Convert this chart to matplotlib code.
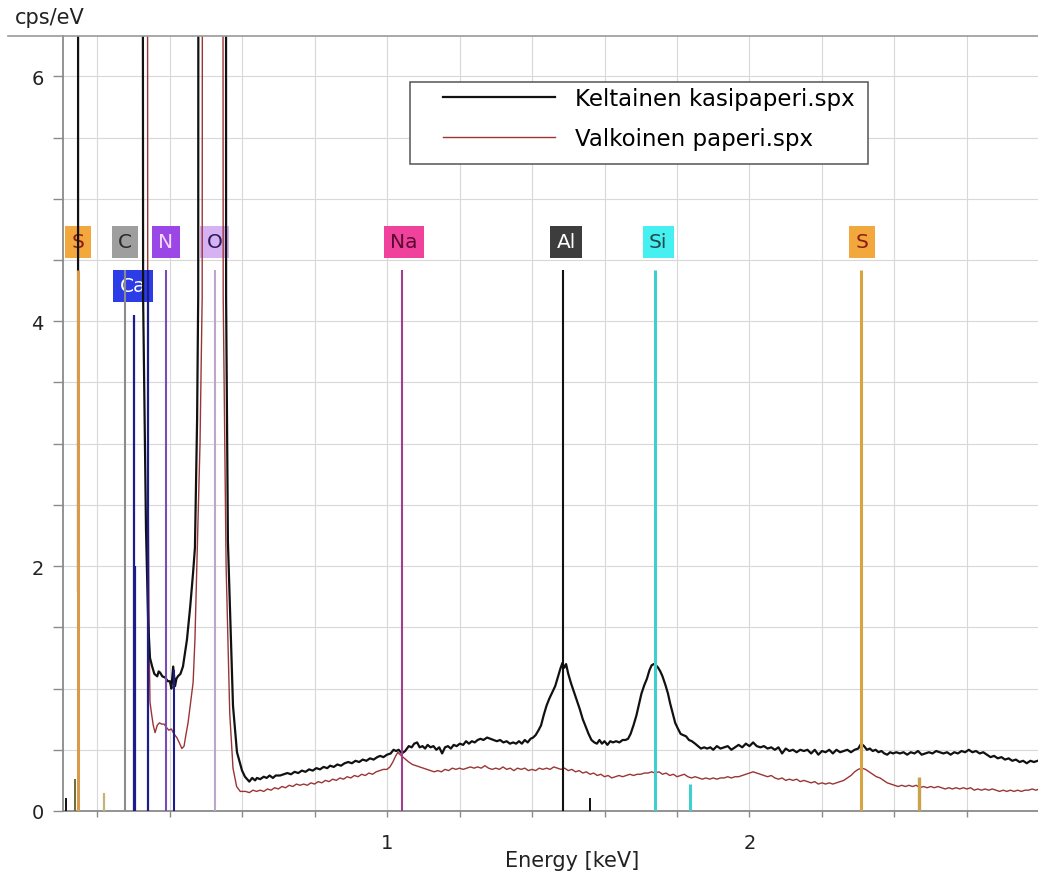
import matplotlib
matplotlib.use("Agg")
import matplotlib.pyplot as plt
from matplotlib.lines import Line2D
from matplotlib.patches import Rectangle

plt.rcParams['font.family'] = ['DejaVu Sans']

# Spectrum 1: Keltainen kasipaperi (energy keV, cps/eV); 40 = off scale
black_e = [0.1475, 0.1485, 0.318, 0.327, 0.335, 0.341, 0.346, 0.352, 0.358, 0.366, 0.370, 0.374,
           0.380, 0.388, 0.395, 0.401, 0.405, 0.410, 0.415, 0.419, 0.423, 0.430, 0.437, 0.443,
           0.448, 0.457, 0.465, 0.470, 0.476, 0.479, 0.485, 0.553, 0.556, 0.561, 0.575, 0.586,
           0.600, 0.608, 0.614, 0.620, 0.628, 0.636, 0.641, 0.650, 0.660, 0.668, 0.676, 0.685,
           0.693, 0.705, 0.715, 0.725, 0.735, 0.745, 0.755, 0.765, 0.775, 0.785, 0.795, 0.805,
           0.815, 0.825, 0.835, 0.843, 0.853, 0.863, 0.873, 0.883, 0.893, 0.903, 0.913, 0.923,
           0.933, 0.943, 0.953, 0.963, 0.973, 0.981, 0.990, 1.000, 1.010, 1.018, 1.025, 1.032,
           1.041, 1.050, 1.060, 1.068, 1.075, 1.083, 1.090, 1.098, 1.105, 1.112, 1.120, 1.128,
           1.136, 1.144, 1.152, 1.160, 1.168, 1.176, 1.184, 1.192, 1.201, 1.210, 1.218, 1.226,
           1.234, 1.242, 1.250, 1.258, 1.266, 1.276, 1.285, 1.294, 1.303, 1.312, 1.321, 1.330,
           1.339, 1.348, 1.356, 1.364, 1.372, 1.380, 1.388, 1.396, 1.403, 1.410, 1.418, 1.425,
           1.432, 1.440, 1.448, 1.456, 1.464, 1.472, 1.478, 1.484, 1.489, 1.494, 1.500, 1.508,
           1.516, 1.524, 1.532, 1.540, 1.548, 1.556, 1.564, 1.572, 1.579, 1.586, 1.593, 1.600,
           1.608, 1.616, 1.623, 1.632, 1.641, 1.650, 1.658, 1.665, 1.672, 1.680, 1.688, 1.695,
           1.702, 1.710, 1.717, 1.724, 1.730, 1.736, 1.742, 1.748, 1.754, 1.760, 1.768, 1.775,
           1.781, 1.788, 1.795, 1.803, 1.810, 1.817, 1.825, 1.833, 1.841, 1.850, 1.858, 1.866,
           1.875, 1.883, 1.892, 1.900, 1.910, 1.920, 1.930, 1.940, 1.950, 1.960, 1.970, 1.980,
           1.990, 2.000, 2.010, 2.020, 2.030, 2.040, 2.050, 2.060, 2.070, 2.080, 2.090, 2.100,
           2.110, 2.120, 2.130, 2.140, 2.150, 2.160, 2.170, 2.180, 2.190, 2.200, 2.210, 2.220,
           2.230, 2.240, 2.250, 2.260, 2.270, 2.280, 2.290, 2.300, 2.308, 2.316, 2.324, 2.332,
           2.340, 2.348, 2.356, 2.364, 2.372, 2.380, 2.388, 2.396, 2.405, 2.415, 2.425, 2.435,
           2.445, 2.455, 2.465, 2.475, 2.485, 2.495, 2.505, 2.515, 2.525, 2.535, 2.545, 2.555,
           2.565, 2.575, 2.585, 2.595, 2.605, 2.615, 2.625, 2.635, 2.645, 2.655, 2.665, 2.675,
           2.685, 2.695, 2.705, 2.715, 2.725, 2.735, 2.745, 2.755, 2.765, 2.775, 2.785, 2.795]
black_y = [1.80, 40, 40, 4.20, 2.30, 1.54, 1.25, 1.18, 1.12, 1.10, 1.14, 1.13,
           1.10, 1.09, 1.06, 1.06, 1.00, 1.18, 1.02, 1.08, 1.10, 1.12, 1.18, 1.30,
           1.40, 1.67, 1.95, 2.15, 3.20, 4.20, 40, 40, 4.20, 2.20, 0.86, 0.48,
           0.33, 0.28, 0.26, 0.24, 0.27, 0.25, 0.27, 0.26, 0.28, 0.27, 0.29, 0.27,
           0.29, 0.29, 0.30, 0.31, 0.30, 0.32, 0.31, 0.33, 0.32, 0.34, 0.33, 0.35,
           0.34, 0.36, 0.35, 0.37, 0.36, 0.38, 0.37, 0.39, 0.40, 0.39, 0.41, 0.40,
           0.42, 0.41, 0.43, 0.42, 0.44, 0.45, 0.44, 0.46, 0.47, 0.50, 0.49, 0.50,
           0.47, 0.49, 0.53, 0.52, 0.55, 0.56, 0.52, 0.53, 0.51, 0.54, 0.52, 0.53,
           0.50, 0.52, 0.47, 0.52, 0.53, 0.51, 0.54, 0.53, 0.55, 0.54, 0.57, 0.55,
           0.57, 0.56, 0.58, 0.59, 0.58, 0.60, 0.59, 0.58, 0.57, 0.58, 0.56, 0.57,
           0.55, 0.56, 0.55, 0.57, 0.55, 0.58, 0.56, 0.59, 0.60, 0.62, 0.66, 0.70,
           0.78, 0.86, 0.92, 0.97, 1.02, 1.10, 1.16, 1.21, 1.17, 1.20, 1.12, 1.04,
           0.97, 0.90, 0.83, 0.75, 0.69, 0.63, 0.58, 0.56, 0.55, 0.58, 0.55, 0.57,
           0.54, 0.57, 0.56, 0.57, 0.56, 0.58, 0.58, 0.59, 0.63, 0.70, 0.78, 0.87,
           0.96, 1.03, 1.08, 1.15, 1.19, 1.20, 1.19, 1.17, 1.14, 1.10, 1.03, 0.96,
           0.88, 0.80, 0.72, 0.67, 0.63, 0.62, 0.61, 0.58, 0.57, 0.55, 0.53, 0.51,
           0.52, 0.51, 0.52, 0.50, 0.53, 0.51, 0.52, 0.53, 0.50, 0.52, 0.54, 0.52,
           0.55, 0.53, 0.56, 0.53, 0.52, 0.53, 0.51, 0.52, 0.50, 0.52, 0.47, 0.51,
           0.49, 0.50, 0.48, 0.50, 0.49, 0.50, 0.47, 0.50, 0.46, 0.49, 0.48, 0.50,
           0.47, 0.50, 0.48, 0.49, 0.50, 0.48, 0.50, 0.51, 0.55, 0.53, 0.50, 0.51,
           0.49, 0.50, 0.48, 0.49, 0.47, 0.46, 0.48, 0.47, 0.48, 0.47, 0.48, 0.46,
           0.48, 0.47, 0.49, 0.46, 0.47, 0.48, 0.47, 0.49, 0.48, 0.47, 0.48, 0.46,
           0.48, 0.47, 0.49, 0.48, 0.50, 0.48, 0.49, 0.47, 0.48, 0.46, 0.44, 0.45,
           0.43, 0.44, 0.42, 0.43, 0.41, 0.42, 0.40, 0.41, 0.39, 0.41, 0.40, 0.41]

# Spectrum 2: Valkoinen paperi
red_e = [0.1475, 0.1485, 0.333, 0.340, 0.344, 0.346, 0.350, 0.355, 0.360, 0.366, 0.372, 0.378,
         0.385, 0.392, 0.398, 0.405, 0.412, 0.420, 0.428, 0.434, 0.440, 0.445, 0.451, 0.457,
         0.465, 0.470, 0.476, 0.484, 0.490, 0.497, 0.540, 0.548, 0.556, 0.566, 0.575, 0.585,
         0.595, 0.610, 0.620, 0.630, 0.640, 0.650, 0.660, 0.670, 0.680, 0.690, 0.700, 0.710,
         0.720, 0.730, 0.740, 0.750, 0.760, 0.770, 0.780, 0.790, 0.800, 0.810, 0.820, 0.830,
         0.840, 0.850, 0.860, 0.870, 0.880, 0.890, 0.900, 0.910, 0.920, 0.930, 0.940, 0.950,
         0.960, 0.970, 0.980, 0.990, 1.000, 1.008, 1.016, 1.024, 1.030, 1.036, 1.044, 1.052,
         1.060, 1.070, 1.080, 1.090, 1.100, 1.110, 1.120, 1.130, 1.140, 1.150, 1.160, 1.170,
         1.180, 1.190, 1.200, 1.210, 1.220, 1.230, 1.240, 1.250, 1.260, 1.270, 1.280, 1.290,
         1.300, 1.310, 1.320, 1.330, 1.340, 1.350, 1.360, 1.370, 1.380, 1.390, 1.400, 1.410,
         1.420, 1.430, 1.440, 1.450, 1.460, 1.470, 1.480, 1.490, 1.500, 1.510, 1.520, 1.530,
         1.540, 1.550, 1.560, 1.570, 1.580, 1.590, 1.600, 1.610, 1.620, 1.630, 1.640, 1.650,
         1.660, 1.670, 1.680, 1.690, 1.700, 1.710, 1.720, 1.730, 1.740, 1.750, 1.760, 1.770,
         1.780, 1.790, 1.800, 1.810, 1.820, 1.830, 1.840, 1.850, 1.860, 1.870, 1.880, 1.890,
         1.900, 1.910, 1.920, 1.930, 1.940, 1.950, 1.960, 1.970, 1.980, 1.990, 2.000, 2.010,
         2.020, 2.030, 2.040, 2.050, 2.060, 2.070, 2.080, 2.090, 2.100, 2.110, 2.120, 2.130,
         2.140, 2.150, 2.160, 2.170, 2.180, 2.190, 2.200, 2.210, 2.220, 2.230, 2.240, 2.250,
         2.260, 2.270, 2.280, 2.290, 2.300, 2.310, 2.320, 2.330, 2.340, 2.350, 2.360, 2.370,
         2.380, 2.390, 2.400, 2.410, 2.420, 2.430, 2.440, 2.450, 2.460, 2.470, 2.480, 2.490,
         2.500, 2.510, 2.520, 2.530, 2.540, 2.550, 2.560, 2.570, 2.580, 2.590, 2.600, 2.610,
         2.620, 2.630, 2.640, 2.650, 2.660, 2.670, 2.680, 2.690, 2.700, 2.710, 2.720, 2.730,
         2.740, 2.750, 2.760, 2.770, 2.780, 2.790, 2.800]
red_y = [2.20, 40, 40, 3.00, 1.30, 0.89, 0.80, 0.70, 0.64, 0.70, 0.72, 0.71,
         0.71, 0.68, 0.66, 0.67, 0.63, 0.60, 0.55, 0.51, 0.53, 0.62, 0.72, 0.86,
         1.05, 1.40, 2.10, 3.00, 4.20, 40, 40, 4.20, 2.00, 0.80, 0.35, 0.20,
         0.16, 0.16, 0.15, 0.17, 0.16, 0.17, 0.16, 0.18, 0.17, 0.19, 0.18, 0.20,
         0.19, 0.21, 0.20, 0.22, 0.21, 0.22, 0.21, 0.23, 0.22, 0.24, 0.23, 0.25,
         0.24, 0.26, 0.25, 0.27, 0.26, 0.28, 0.27, 0.29, 0.28, 0.30, 0.29, 0.31,
         0.30, 0.32, 0.33, 0.34, 0.34, 0.36, 0.40, 0.45, 0.48, 0.46, 0.44, 0.42,
         0.40, 0.38, 0.37, 0.36, 0.35, 0.34, 0.33, 0.32, 0.33, 0.32, 0.34, 0.33,
         0.35, 0.34, 0.35, 0.34, 0.35, 0.36, 0.35, 0.36, 0.35, 0.37, 0.35, 0.34,
         0.35, 0.34, 0.36, 0.34, 0.35, 0.33, 0.35, 0.34, 0.35, 0.33, 0.34, 0.33,
         0.35, 0.34, 0.35, 0.34, 0.36, 0.35, 0.34, 0.35, 0.33, 0.34, 0.32, 0.33,
         0.31, 0.32, 0.30, 0.31, 0.29, 0.30, 0.28, 0.29, 0.27, 0.28, 0.29, 0.28,
         0.29, 0.30, 0.29, 0.30, 0.30, 0.31, 0.31, 0.32, 0.31, 0.32, 0.30, 0.31,
         0.29, 0.30, 0.28, 0.29, 0.30, 0.28, 0.27, 0.28, 0.27, 0.26, 0.27, 0.26,
         0.27, 0.26, 0.27, 0.27, 0.28, 0.27, 0.28, 0.28, 0.29, 0.30, 0.31, 0.32,
         0.31, 0.30, 0.29, 0.28, 0.29, 0.27, 0.26, 0.27, 0.25, 0.26, 0.25, 0.26,
         0.24, 0.25, 0.24, 0.23, 0.24, 0.22, 0.23, 0.22, 0.23, 0.22, 0.23, 0.24,
         0.25, 0.27, 0.29, 0.32, 0.34, 0.35, 0.34, 0.32, 0.30, 0.28, 0.27, 0.25,
         0.23, 0.22, 0.21, 0.20, 0.21, 0.20, 0.21, 0.20, 0.21, 0.19, 0.20, 0.19,
         0.20, 0.19, 0.20, 0.19, 0.18, 0.19, 0.18, 0.19, 0.18, 0.19, 0.18, 0.19,
         0.17, 0.18, 0.17, 0.18, 0.17, 0.18, 0.17, 0.16, 0.17, 0.16, 0.17, 0.16,
         0.17, 0.16, 0.17, 0.17, 0.18, 0.17, 0.18]

# Element line markers (energy keV, marker height, colour, width in pt)
line_energy = [0.148, 0.277, 0.302, 0.306, 0.341, 0.390, 0.412, 0.525,
               1.041, 1.486, 1.740, 2.307, 0.114, 0.139, 0.219, 1.560, 1.836, 2.468]
line_height = [4.42, 4.42, 4.05, 2.00, 4.42, 4.42, 1.15, 4.42,
               4.42, 4.42, 4.42, 4.42, 0.11, 0.26, 0.15, 0.11, 0.22, 0.28]
line_color = ['#D99A4A', '#8C8C8C', '#1C1C8E', '#1C1C8E', '#1C1C8E', '#7B4BB8', '#1C1C8E', '#BCA6CC',
              '#A0408C', '#111111', '#3FCFCF', '#D6A443', '#111111', '#6B6A3A', '#C9B27A', '#111111',
              '#3FCFCF', '#C9A24A']
line_width = [2.2, 1.5, 1.6, 1.6, 1.6, 1.5, 1.5, 1.5,
              1.5, 1.5, 2.2, 2.2, 1.4, 1.4, 1.6, 1.4, 2.2, 2.4]

# Element labels
label_text = ['S', 'C', 'N', 'O', 'Ca', 'Na', 'Al', 'Si', 'S']
label_energy = [0.148, 0.277, 0.390, 0.525, 0.299, 1.046, 1.494, 1.748, 2.310]
label_level = [4.65, 4.65, 4.65, 4.65, 4.29, 4.65, 4.65, 4.65, 4.65]
label_face = ['#F2A83C', '#9E9E9E', '#9B46E6', '#D6B2F3', '#2C3CE6', '#F0419C', '#3D3D3D', '#47F0F0', '#F2A83C']
label_ink = ['#8B1E14', '#2A2A2A', '#F6DAF6', '#2E1A5E', '#FFFFFF', '#5A0A30', '#FFFFFF', '#1E4A4A', '#8B1E14']

x_tick_pos = [0.2, 0.4, 0.6, 0.8, 1.0, 1.2, 1.4, 1.6, 1.8, 2.0, 2.2, 2.4, 2.6]
x_tick_text = ['', '', '', '', '1', '', '', '', '', '2', '', '', '']
y_tick_pos = [0, 0.5, 1, 1.5, 2, 2.5, 3, 3.5, 4, 4.5, 5, 5.5, 6]
y_tick_text = ['0', '', '', '', '2', '', '', '', '4', '', '', '', '6']

fig = plt.figure(figsize=(10.38, 8.78), dpi=100)
ax = fig.add_axes([63 / 1038, 1 - 812 / 878, 975 / 1038, 775 / 878])

ax.set_xlim(0.106, 2.796)
ax.set_ylim(0, 6.33)

# tags sit under the spectra, marker lines over them
for t, e, lv, fc, ink in zip(label_text, label_energy, label_level, label_face, label_ink):
    ax.text(e, lv, t, ha='center', va='center', fontsize=14.5, color=ink, zorder=3,
            bbox=dict(boxstyle='square,pad=0.32', fc=fc, ec='none'))

red_line, = ax.plot(red_e, red_y, color='#9A3535', linewidth=1.0, zorder=4,
                    label='Valkoinen paperi.spx')
black_line, = ax.plot(black_e, black_y, color='#111111', linewidth=1.6, zorder=4.5,
                      label='Keltainen kasipaperi.spx')

for e, h, c, w in zip(line_energy, line_height, line_color, line_width):
    ax.vlines(e, 0, h, colors=c, linewidth=w, zorder=5)

# axes styling
ax.set_xticks(x_tick_pos)
ax.set_xticklabels(x_tick_text)
ax.set_yticks(y_tick_pos)
ax.set_yticklabels(y_tick_text)
ax.tick_params(axis='x', length=4, width=1, color='#8A8A8A', pad=12, labelsize=14, labelcolor='#222222')
ax.tick_params(axis='y', length=7, width=1, color='#8A8A8A', pad=7, labelsize=14, labelcolor='#222222')
ax.grid(True, color='#D8D8D8', linewidth=0.8, zorder=0)
ax.set_axisbelow(True)
for side in ['top', 'right']:
    ax.spines[side].set_visible(False)
for side in ['left', 'bottom']:
    ax.spines[side].set_color('#8A8A8A')
    ax.spines[side].set_linewidth(1.3)

ax.set_xlabel('Energy [keV]', fontsize=15, color='#222222')
ax.xaxis.set_label_coords(0.522, -0.05)

# legend box
ax.add_patch(Rectangle((0.3559, 0.8348), 0.4697, 0.1058, transform=ax.transAxes,
                       facecolor='white', edgecolor='#555555', linewidth=1.1, zorder=6))
ax.legend(handles=[black_line, red_line], loc='upper left', bbox_to_anchor=(0.3897, 0.934),
          frameon=False, borderpad=0, borderaxespad=0, handlelength=4.9, handletextpad=0.87,
          labelspacing=0.75, fontsize=16.5).set_zorder(7)

# header line and unit
fig.add_artist(Line2D([0.008, 1.0], [0.958, 0.958], transform=fig.transFigure,
                      color='#9A9A9A', linewidth=1.2))
fig.text(0.014, 0.979, 'cps/eV', fontsize=15, color='#222222', ha='left', va='center')

fig.savefig('out.png', dpi=100)
